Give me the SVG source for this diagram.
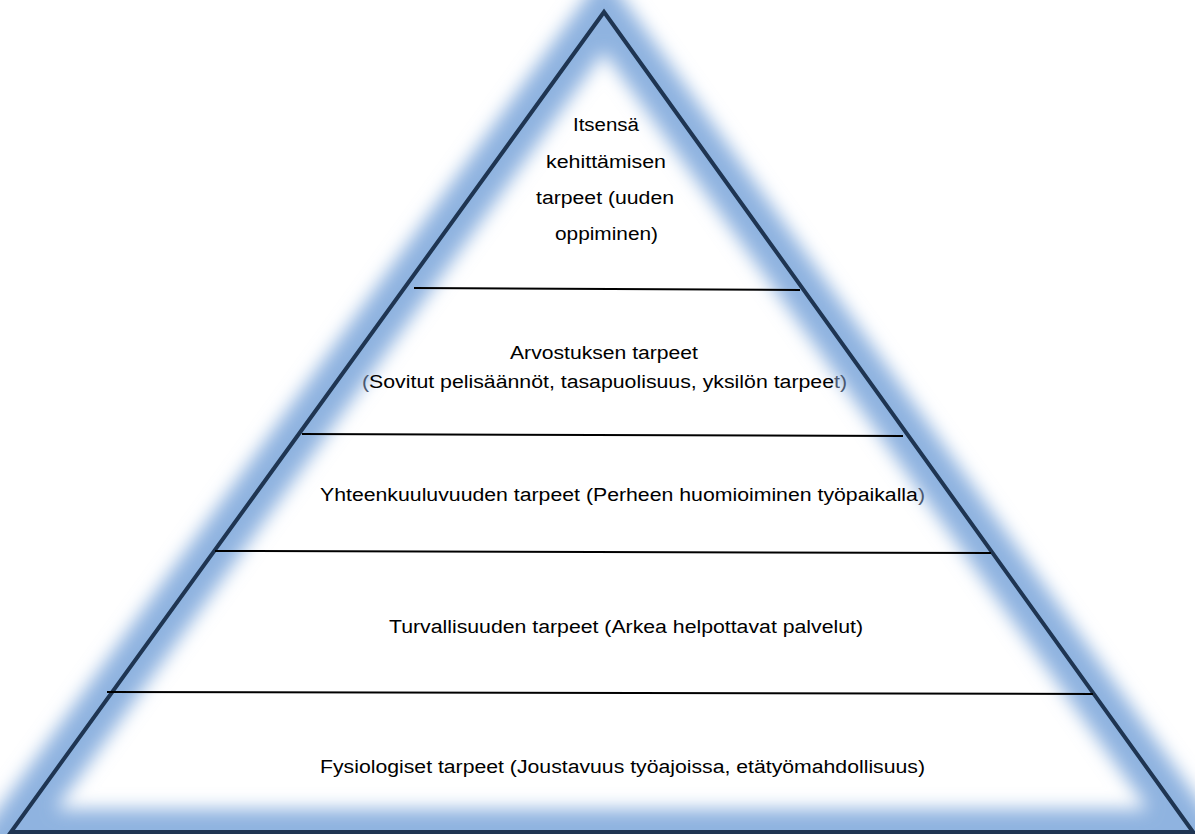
<svg xmlns="http://www.w3.org/2000/svg" width="1195" height="834" viewBox="0 0 1195 834">
<defs>
<filter id="glow" x="-10%" y="-10%" width="120%" height="120%">
<feGaussianBlur stdDeviation="9"/>
</filter>
<style>
.t{font-family:"Liberation Sans",Arial,sans-serif;font-size:18px;fill:#000;text-anchor:middle}
.p{fill:#4a5870}
.sep{stroke:#000;stroke-width:2}
</style>
</defs>
<rect width="1195" height="834" fill="#fff"/>
<g id="pyramid">
<polygon points="604,12 11,832 1193,832" fill="none" stroke="#8fb3e0" stroke-width="46" stroke-linejoin="miter" filter="url(#glow)"/>
<polygon points="604,12 11,832 1193,832" fill="none" stroke="#1f3552" stroke-width="4" stroke-linejoin="miter"/>
</g>
<g id="connectors">
<line class="sep" x1="414" y1="288" x2="800" y2="290"/>
<line class="sep" x1="302" y1="434" x2="903" y2="436"/>
<line class="sep" x1="215" y1="551" x2="991" y2="553"/>
<line class="sep" x1="107" y1="692" x2="1093" y2="694"/>
</g>
<g id="level5">
<text class="t" x="606" y="131" textLength="66" lengthAdjust="spacingAndGlyphs">Itsensä</text>
<text class="t" x="606" y="168" textLength="120" lengthAdjust="spacingAndGlyphs">kehittämisen</text>
<text class="t" x="605" y="204" textLength="138" lengthAdjust="spacingAndGlyphs">tarpeet (uuden</text>
<text class="t" x="606.5" y="240" textLength="103" lengthAdjust="spacingAndGlyphs">oppiminen)</text>
</g>
<g id="level4">
<text class="t" x="604" y="359" textLength="188" lengthAdjust="spacingAndGlyphs">Arvostuksen tarpeet</text>
<text class="t" x="604.5" y="388" textLength="485" lengthAdjust="spacingAndGlyphs"><tspan class="p">(</tspan>Sovitut pelisäännöt, tasapuolisuus, yksilön tarpee<tspan class="p">t)</tspan></text>
</g>
<g id="level3">
<text class="t" x="622.5" y="501" textLength="605" lengthAdjust="spacingAndGlyphs">Yhteenkuuluvuuden tarpeet (Perheen huomioiminen työpaikalla<tspan class="p">)</tspan></text>
</g>
<g id="level2">
<text class="t" x="626" y="633" textLength="474" lengthAdjust="spacingAndGlyphs">Turvallisuuden tarpeet (Arkea helpottavat palvelut)</text>
</g>
<g id="level1">
<text class="t" x="622.5" y="773" textLength="605" lengthAdjust="spacingAndGlyphs">Fysiologiset tarpeet (Joustavuus työajoissa, etätyömahdollisuus)</text>
</g>
</svg>
